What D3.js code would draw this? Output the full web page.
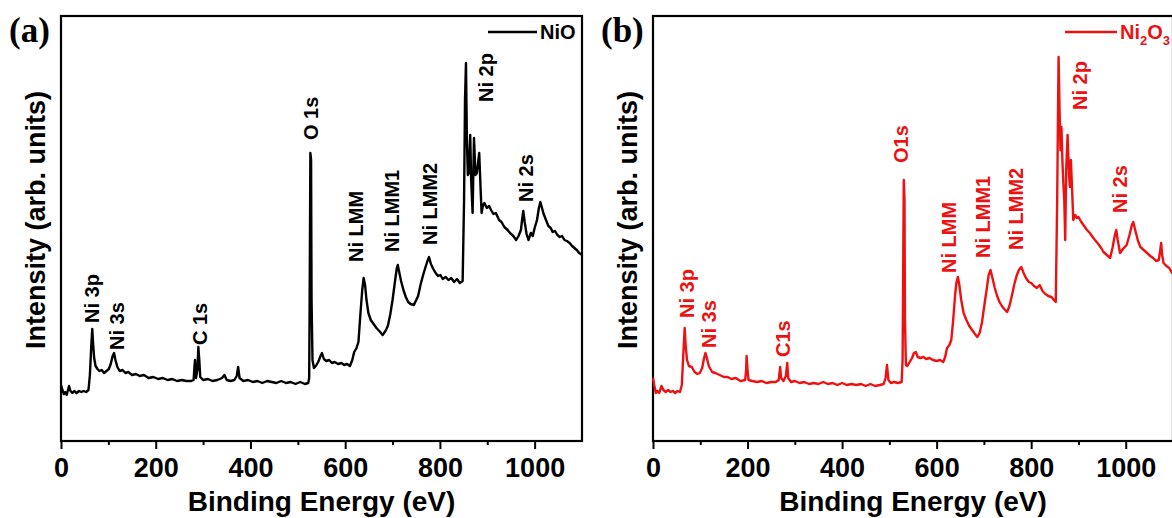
<!DOCTYPE html>
<html>
<head>
<meta charset="utf-8">
<script src="https://cdn.jsdelivr.net/npm/d3@7"></script>
<style>
  body { margin: 0; background: #fff; }
  text { font-family: Arial, "Liberation Sans", sans-serif; font-weight: bold; }
</style>
</head>
<body>
<svg id="chart" width="1172" height="518"></svg>
<script>
"use strict";

// ---- data ----
const majorTicks = [0, 200, 400, 600, 800, 1000];
const minorTicks = [100, 300, 500, 700, 900];

// (a) NiO
const energyA = [0,3,6,9,12,17,20,24,28,33,38,43,48,53,58,61,64,66,68,70,73,77,81,86,91,96,101,105,109,112,115,119,124,130,136,142,150,158,166,175,185,195,205,215,225,235,245,255,265,275,280,282,283,285,288,290,292,294,300,310,320,330,340,345,350,358,366,371,374,377,385,395,405,415,425,435,445,455,465,475,485,495,505,515,522,524,525,526.5,528,529,531,534,538,543,548,551,555,560,566,572,578,585,592,598,604,610,615,619,624,628,632,636,639,642,645,649,654,660,666,672,679,685,690,695,700,705,709,711,714,718,723,728,733,738,745,749,754,759,764,769,773,777,781,786,791,796,801,806,812,818,824,830,836,842,848,851,853,855,857,859,861,864,866,869,872,875,878,883,886,888,891,894,899,904,908,913,918,925,930,936,943,948,955,961,966,971,974,976,979,983,987,992,996,1000,1005,1009,1012,1015,1019,1024,1029,1034,1038,1043,1048,1053,1058,1063,1068,1074,1079,1084,1089,1094,1100];
const countsA = [56,51,47,49,46,55,50,48,50,48,50,49,50,49,51,66,96,112,96,83,75,72,70,71,68,70,72,77,85,88,81,74,70,71,68,69,66,67,65,66,63,64,62,63,61,62,60,61,60,60,61,76,81,63,71,94,81,64,61,62,60,61,63,66,61,60,61,65,74,63,60,61,59,60,58,60,59,58,60,58,59,57,59,57,58,63,141,288,281,141,81,73,75,79,85,88,82,80,81,78,79,77,78,76,77,75,81,89,93,99,126,151,163,156,141,128,121,117,113,110,106,110,115,126,141,159,173,176,169,160,151,144,139,137,136,140,145,156,165,173,179,184,177,172,168,165,166,162,164,161,163,159,162,158,160,241,341,378,301,266,268,306,261,228,303,266,268,288,251,228,236,238,233,235,231,227,228,221,219,214,211,208,205,201,205,211,223,230,219,207,201,208,205,213,221,233,239,234,227,221,215,213,209,210,206,204,205,201,200,198,195,193,191,188,186];
const namesA = ["Ni 3p", "Ni 3s", "C 1s", "O 1s", "Ni LMM", "Ni LMM1", "Ni LMM2", "Ni 2p", "Ni 2s"];
const labelEnergyA = [66, 118, 292, 527, 623, 698, 779, 897, 982];
const labelCountsA = [118, 91, 96, 301, 179, 189, 196, 339, 239];

// (b) Ni2O3
const energyB = [0,3,6,9,13,18,22,27,32,37,42,47,52,57,61,64,67,69,72,76,82,88,94,99,104,108,111,114,118,125,132,141,150,158,166,175,185,195,197,198,200,202,210,220,230,240,250,260,266,269,271,276,281,284,286,292,300,310,320,330,340,350,360,370,380,390,400,410,420,430,440,450,460,470,480,488,492,495,498,503,510,518,526,528,529.5,530.5,532,533,535,538,543,548,552,556,560,566,572,578,585,592,600,607,614,618,622,627,631,635,639,642,645,648,652,657,663,669,675,681,686,691,696,701,706,710,714,718,723,728,733,738,743,749,754,759,764,769,774,779,784,789,795,800,806,812,818,824,830,836,843,848,852,855,857,858,860,862,864,866,868,870,872,874,877,880,882,884,887,889,893,897,900,906,912,918,924,930,935,942,948,953,960,967,972,977,980,983,988,994,1002,1008,1013,1016,1020,1026,1031,1038,1045,1052,1058,1064,1070,1073,1075,1077,1080,1086,1092,1098,1100];
const countsB = [63,55,48,50,48,55,51,49,51,49,50,48,50,49,56,86,113,96,81,75,74,69,67,68,73,83,88,83,75,69,68,66,64,64,62,63,60,61,71,85,71,61,60,59,60,58,59,59,61,74,63,60,65,78,63,59,60,58,59,57,58,57,59,57,58,56,58,56,57,56,57,55,57,55,56,57,63,76,61,58,59,58,59,81,191,261,241,121,76,75,79,83,88,89,84,83,84,82,83,81,80,81,79,84,93,96,101,121,146,159,164,156,141,128,121,115,111,107,104,108,119,136,152,166,171,163,153,145,139,135,132,129,135,145,156,165,171,174,168,163,159,158,155,153,156,150,147,145,144,141,139,241,341,384,331,291,314,281,258,241,201,271,306,266,254,281,246,221,226,223,224,219,215,211,208,204,201,197,193,189,186,183,193,206,211,201,188,192,196,206,216,219,211,200,194,191,188,185,183,180,181,191,198,186,178,175,173,168,169];
const namesB = ["Ni 3p", "Ni 3s", "C1s", "O1s", "Ni LMM", "Ni LMM1", "Ni LMM2", "Ni 2p", "Ni 2s"];
const labelEnergyB = [72, 118, 275, 525, 626, 698, 768, 903, 988];
const labelCountsB = [123, 93, 84, 278, 168, 183, 191, 331, 228];

const svg = d3.select("#chart");
const frameTop = 16, frameBottom = 441;

function drawPanel(p) {
  const g = svg.append("g");

  const x = d3.scaleLinear().domain([0, 1100]).range([p.left, p.right]);
  const y = d3.scaleLinear().domain([0, 425]).range([frameBottom, frameTop]);

  // minor ticks
  g.append("g")
    .attr("transform", `translate(0,${frameBottom})`)
    .call(d3.axisBottom(x).tickValues(minorTicks).tickSize(4).tickFormat(""))
    .call(a => a.select(".domain").remove())
    .call(a => a.selectAll("line").attr("stroke", "#000").attr("stroke-width", 2));

  // major ticks + labels
  g.append("g")
    .attr("transform", `translate(0,${frameBottom})`)
    .call(d3.axisBottom(x).tickValues(majorTicks).tickSize(8).tickPadding(9).tickFormat(d3.format("d")))
    .call(a => a.select(".domain").remove())
    .call(a => a.selectAll("line").attr("stroke", "#000").attr("stroke-width", 2))
    .call(a => a.selectAll("text")
      .attr("fill", "#000")
      .style("font-size", "27px")
      .style("font-family", "Arial, 'Liberation Sans', sans-serif")
      .style("font-weight", "bold"));

  // frame
  g.append("rect")
    .attr("x", p.left).attr("y", frameTop)
    .attr("width", p.right - p.left).attr("height", frameBottom - frameTop)
    .attr("fill", "none").attr("stroke", "#000").attr("stroke-width", 2.2);

  // spectrum
  const pts = p.energy.map((e, i) => [e, p.counts[i]]);
  g.append("path")
    .datum(pts)
    .attr("fill", "none")
    .attr("stroke", p.color)
    .attr("stroke-width", 2.4)
    .attr("stroke-linejoin", "round")
    .attr("d", d3.line().x(d => x(d[0])).y(d => y(d[1])));

  // peak labels (rotated)
  g.selectAll("text.peak")
    .data(p.names)
    .enter()
    .append("text")
    .attr("class", "peak")
    .attr("transform", (d, i) => `translate(${x(p.labelE[i])},${y(p.labelC[i])}) rotate(-90)`)
    .attr("dy", "0.36em")
    .attr("fill", p.color)
    .style("font-size", "20px")
    .text(d => d);

  // axis titles
  g.append("text")
    .attr("x", (p.left + p.right) / 2)
    .attr("y", 511)
    .attr("text-anchor", "middle")
    .style("font-size", "28px")
    .text("Binding Energy (eV)");

  g.append("text")
    .attr("transform", `translate(${p.left - 26},220) rotate(-90)`)
    .attr("text-anchor", "middle")
    .attr("dy", "0.36em")
    .style("font-size", "27px")
    .text("Intensity (arb. units)");

  // panel letter
  g.append("text")
    .attr("x", p.left - 52)
    .attr("y", 42)
    .style("font-family", "'Times New Roman', 'Liberation Serif', serif")
    .style("font-size", "35px")
    .text(p.letter);

  // legend
  g.append("line")
    .attr("x1", p.right - p.legendOffset).attr("x2", p.right - p.legendOffset + p.legendLen)
    .attr("y1", 32).attr("y2", 32)
    .attr("stroke", p.color).attr("stroke-width", 2.5);

  const lt = g.append("text")
    .attr("x", p.right - p.legendOffset + p.legendLen + 3)
    .attr("y", 39)
    .attr("fill", p.color)
    .style("font-size", "20px");
  p.legend.forEach(part => {
    lt.append("tspan")
      .attr("dy", part.sub ? 6 : (part.after ? -6 : 0))
      .style("font-size", part.sub ? "13px" : "20px")
      .text(part.t);
  });
}

drawPanel({
  left: 61, right: 582, color: "#000",
  energy: energyA, counts: countsA,
  names: namesA, labelE: labelEnergyA, labelC: labelCountsA,
  letter: "(a)", legendOffset: 94, legendLen: 49,
  legend: [{ t: "NiO" }]
});

drawPanel({
  left: 653, right: 1173, color: "#ee1111",
  energy: energyB, counts: countsB,
  names: namesB, labelE: labelEnergyB, labelC: labelCountsB,
  letter: "(b)", legendOffset: 108, legendLen: 52,
  legend: [{ t: "Ni" }, { t: "2", sub: true }, { t: "O", after: true }, { t: "3", sub: true }]
});
</script>
</body>
</html>
